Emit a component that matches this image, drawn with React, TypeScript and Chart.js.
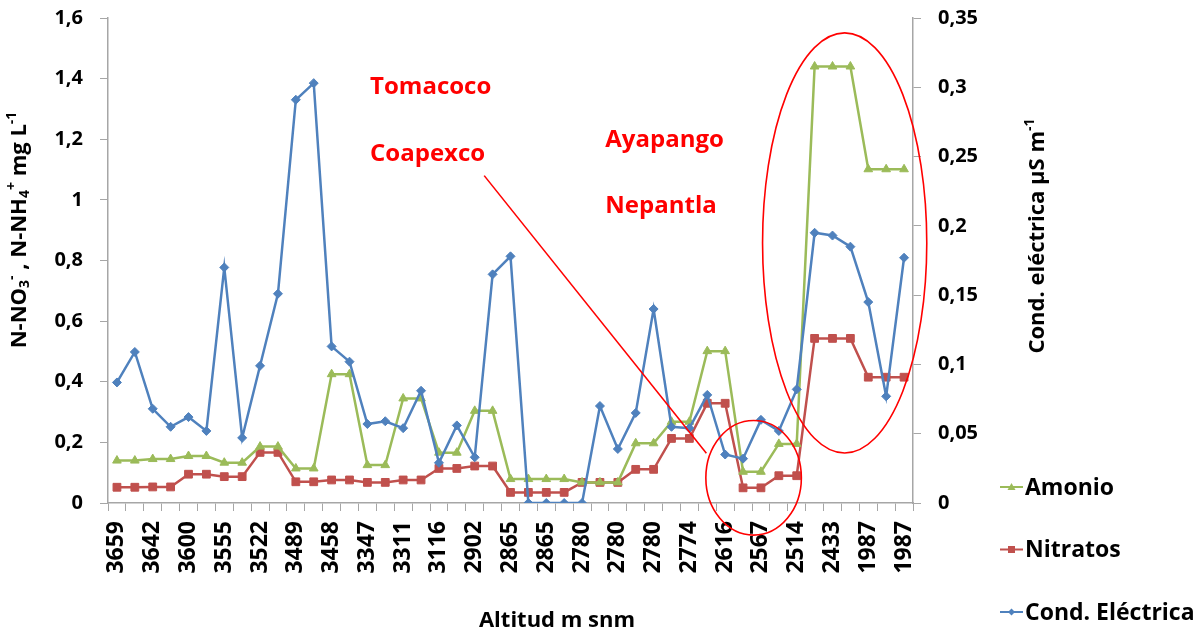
import React, { useEffect, useRef } from "react";
import { Chart, registerables } from "chart.js";

Chart.register(...registerables);

// ---- Data ----
const altitudes = [
  "3659", "3659", "3642", "3642", "3600", "3600", "3555", "3555", "3522", "3522",
  "3489", "3489", "3458", "3458", "3347", "3347", "3311", "3311", "3116", "3116",
  "2902", "2902", "2865", "2865", "2865", "2865", "2780", "2780", "2780", "2780",
  "2780", "2780", "2774", "2774", "2616", "2616", "2567", "2567", "2514", "2514",
  "2433", "2433", "1987", "1987", "1987",
];

const amonio = [
  0.14, 0.14, 0.145, 0.145, 0.155, 0.155, 0.133, 0.133, 0.186, 0.186, 0.114, 0.114, 0.425, 0.425,
  0.125, 0.125, 0.345, 0.345, 0.166, 0.166, 0.304, 0.304, 0.079, 0.079, 0.079, 0.079, 0.068, 0.068, 0.068,
  0.197, 0.197, 0.268, 0.268, 0.501, 0.501, 0.103, 0.103, 0.195, 0.195, 1.44, 1.44, 1.44, 1.101, 1.101, 1.101,
];

const nitratos = [
  0.052, 0.052, 0.053, 0.053, 0.095, 0.095, 0.087, 0.087, 0.167, 0.167, 0.07, 0.07, 0.076, 0.076,
  0.068, 0.068, 0.076, 0.076, 0.114, 0.114, 0.122, 0.122, 0.035, 0.035, 0.035, 0.035, 0.068, 0.068, 0.068,
  0.111, 0.111, 0.213, 0.213, 0.329, 0.329, 0.05, 0.05, 0.09, 0.09, 0.543, 0.543, 0.543, 0.415, 0.415, 0.415,
];

const condElectrica = [
  0.087, 0.109, 0.068, 0.055, 0.062, 0.052, 0.17, 0.047, 0.099, 0.151, 0.291, 0.303, 0.113, 0.102, 0.057,
  0.059, 0.054, 0.081, 0.029, 0.056, 0.033, 0.165, 0.178, 0, 0, 0, 0, 0.07, 0.039, 0.065,
  0.14, 0.055, 0.054, 0.078, 0.035, 0.032, 0.06, 0.052, 0.082, 0.195, 0.193, 0.185, 0.145, 0.077, 0.177,
];

const leftTicks = { min: 0, max: 1.6, step: 0.2 };
const rightTicks = { min: 0, max: 0.35, step: 0.05 };

// Annotations (in data units: category index, left-axis value)
const placeNames = ["Tomacoco", "Coapexco", "Ayapango", "Nepantla"];
const placeCat = [14.15, 14.15, 27.3, 27.3];
const placeVal = [1.371, 1.151, 1.198, 0.978];
const pointerLine = { cat0: 20.53, val0: 1.08, cat1: 32.95, val1: 0.164 };
const ellipses = [
  { cat: 40.68, val: 0.858, rCat: 4.59, rVal: 0.693 },
  { cat: 35.59, val: 0.083, rCat: 2.67, rVal: 0.189 },
];

const GREEN = "#9bbb59";
const RED = "#c0504d";
const BLUE = "#4f81bd";
const AXIS = "#a6a6a6";
const FONT = '"Open Sans", "DejaVu Sans", sans-serif';

const fmt = (v: number) => String(Math.round(v * 1000) / 1000).replace(".", ",");

type Seg = { t: string; sub?: boolean; sup?: boolean };

function drawRich(ctx: CanvasRenderingContext2D, segs: Seg[], size: number) {
  const small = Math.round(size * 0.62);
  const widths = segs.map((s) => {
    ctx.font = `bold ${s.sub || s.sup ? small : size}px ${FONT}`;
    return ctx.measureText(s.t).width;
  });
  const total = widths.reduce((a, b) => a + b, 0);
  let x = -total / 2;
  segs.forEach((s, i) => {
    ctx.font = `bold ${s.sub || s.sup ? small : size}px ${FONT}`;
    const dy = s.sub ? size * 0.25 : s.sup ? -size * 0.38 : 0;
    ctx.fillText(s.t, x, dy);
    x += widths[i];
  });
}

const leftTitle: Seg[] = [
  { t: "N-NO" }, { t: "3", sub: true }, { t: "-", sup: true }, { t: " , N-NH" },
  { t: "4", sub: true }, { t: "+", sup: true }, { t: " mg L" }, { t: "-1", sup: true },
];
const rightTitle: Seg[] = [{ t: "Cond. eléctrica µS m" }, { t: "-1", sup: true }];

const legendItems = [
  { label: "Amonio", color: GREEN, shape: "triangle" },
  { label: "Nitratos", color: RED, shape: "rect" },
  { label: "Cond. Eléctrica", color: BLUE, shape: "diamond" },
];

const decorPlugin = {
  id: "decor",
  afterDraw(chart: any) {
    const { ctx, scales } = chart;
    const x = scales.x;
    const y = scales.y;
    ctx.save();

    // axis titles
    ctx.fillStyle = "#000";
    ctx.textBaseline = "middle";
    ctx.textAlign = "left";
    ctx.save();
    ctx.translate(20, 230);
    ctx.rotate(-Math.PI / 2);
    drawRich(ctx, leftTitle, 22);
    ctx.restore();

    ctx.save();
    ctx.translate(1038, 236);
    ctx.rotate(-Math.PI / 2);
    drawRich(ctx, rightTitle, 22);
    ctx.restore();

    ctx.textAlign = "center";
    ctx.font = `bold 22px ${FONT}`;
    ctx.fillText("Altitud m snm", 557, 621);

    // legend
    legendItems.forEach((it, i) => {
      const cy = 487 + i * 62.5;
      ctx.strokeStyle = it.color;
      ctx.fillStyle = it.color;
      ctx.lineWidth = 2;
      ctx.beginPath();
      ctx.moveTo(1000, cy);
      ctx.lineTo(1023, cy);
      ctx.stroke();
      const mx = 1011.5;
      ctx.beginPath();
      if (it.shape === "triangle") {
        ctx.moveTo(mx, cy - 4);
        ctx.lineTo(mx + 4, cy + 3);
        ctx.lineTo(mx - 4, cy + 3);
      } else if (it.shape === "rect") {
        ctx.rect(mx - 3.5, cy - 3.5, 7, 7);
      } else {
        ctx.moveTo(mx, cy - 3.5);
        ctx.lineTo(mx + 3.5, cy);
        ctx.lineTo(mx, cy + 3.5);
        ctx.lineTo(mx - 3.5, cy);
      }
      ctx.closePath();
      ctx.fill();
      ctx.fillStyle = "#000";
      ctx.textAlign = "left";
      ctx.font = `bold 23px ${FONT}`;
      ctx.fillText(it.label, 1025, cy + 1);
    });

    // annotations
    ctx.fillStyle = "#ff0000";
    ctx.strokeStyle = "#ff0000";
    ctx.font = `bold 24px ${FONT}`;
    ctx.textAlign = "left";
    placeNames.forEach((n, i) => {
      ctx.fillText(n, x.getPixelForValue(placeCat[i]), y.getPixelForValue(placeVal[i]));
    });
    ctx.lineWidth = 1.6;
    ctx.beginPath();
    ctx.moveTo(x.getPixelForValue(pointerLine.cat0), y.getPixelForValue(pointerLine.val0));
    ctx.lineTo(x.getPixelForValue(pointerLine.cat1), y.getPixelForValue(pointerLine.val1));
    ctx.stroke();
    ellipses.forEach((e) => {
      const cx = x.getPixelForValue(e.cat);
      const cy = y.getPixelForValue(e.val);
      const rx = Math.abs(x.getPixelForValue(e.cat + e.rCat) - cx);
      const ry = Math.abs(y.getPixelForValue(e.val + e.rVal) - cy);
      ctx.beginPath();
      ctx.ellipse(cx, cy, rx, ry, 0, 0, Math.PI * 2);
      ctx.stroke();
    });
    ctx.restore();
  },
};

export default function App() {
  const ref = useRef<HTMLCanvasElement>(null);

  useEffect(() => {
    if (!ref.current) return;
    const chart = new Chart(ref.current, {
      type: "line",
      data: {
        labels: altitudes,
        datasets: [
          {
            label: "Amonio",
            data: amonio,
            yAxisID: "y",
            borderColor: GREEN,
            backgroundColor: GREEN,
            borderWidth: 2.5,
            pointStyle: "triangle",
            pointRadius: 5,
            pointBorderWidth: 1,
            order: 1,
          },
          {
            label: "Nitratos",
            data: nitratos,
            yAxisID: "y",
            borderColor: RED,
            backgroundColor: RED,
            borderWidth: 2.5,
            pointStyle: "rect",
            pointRadius: 5.5,
            pointBorderWidth: 1,
            order: 2,
          },
          {
            label: "Cond. Eléctrica",
            data: condElectrica,
            yAxisID: "y1",
            borderColor: BLUE,
            backgroundColor: BLUE,
            borderWidth: 2.5,
            pointStyle: "rectRot",
            pointRadius: 4.5,
            pointBorderWidth: 1,
            order: 0,
          },
        ],
      },
      options: {
        responsive: false,
        animation: false,
        layout: { padding: { left: 0, top: 18, right: 188, bottom: 0 } },
        plugins: { legend: { display: false }, tooltip: { enabled: false } },
        elements: { line: { tension: 0 } },
        scales: {
          x: {
            type: "category",
            offset: true,
            grid: { display: true, offset: true, drawOnChartArea: false, drawTicks: true, tickLength: 8, color: AXIS },
            border: { display: true, color: AXIS, width: 1.5 },
            ticks: {
              autoSkip: false,
              maxRotation: 90,
              minRotation: 90,
              padding: 10,
              color: "#000",
              font: { family: FONT, weight: "bold", size: 23 },
              callback: (_v: any, i: number) => (i % 2 === 0 ? altitudes[i] : ""),
            },
            afterFit: (s: any) => {
              s.height = 137;
              s.paddingLeft = 0;
              s.paddingRight = 0;
            },
          },
          y: {
            position: "left",
            min: leftTicks.min,
            max: leftTicks.max,
            grid: { display: true, drawOnChartArea: false, drawTicks: true, tickLength: 8, color: AXIS },
            border: { display: true, color: AXIS, width: 1.5 },
            ticks: {
              stepSize: leftTicks.step,
              padding: 17,
              color: "#000",
              font: { family: FONT, weight: "bold", size: 20 },
              callback: (v: any) => fmt(Number(v)),
            },
            afterFit: (s: any) => {
              s.width = 108;
              s.paddingTop = 0;
              s.paddingBottom = 0;
            },
          },
          y1: {
            position: "right",
            min: rightTicks.min,
            max: rightTicks.max,
            grid: { display: true, drawOnChartArea: false, drawTicks: true, tickLength: 8, color: AXIS },
            border: { display: true, color: AXIS, width: 1.5 },
            ticks: {
              stepSize: rightTicks.step,
              padding: 17,
              color: "#000",
              font: { family: FONT, weight: "bold", size: 20 },
              callback: (v: any) => fmt(Number(v)),
            },
            afterFit: (s: any) => {
              s.width = 100;
              s.paddingTop = 0;
              s.paddingBottom = 0;
            },
          },
        },
      },
      plugins: [decorPlugin],
    } as any);
    return () => chart.destroy();
  }, []);

  return (
    <div style={{ position: "absolute", left: 0, top: 0, width: 1201, height: 640, background: "#fff" }}>
      <canvas ref={ref} width={1201} height={640} style={{ display: "block" }} />
    </div>
  );
}
